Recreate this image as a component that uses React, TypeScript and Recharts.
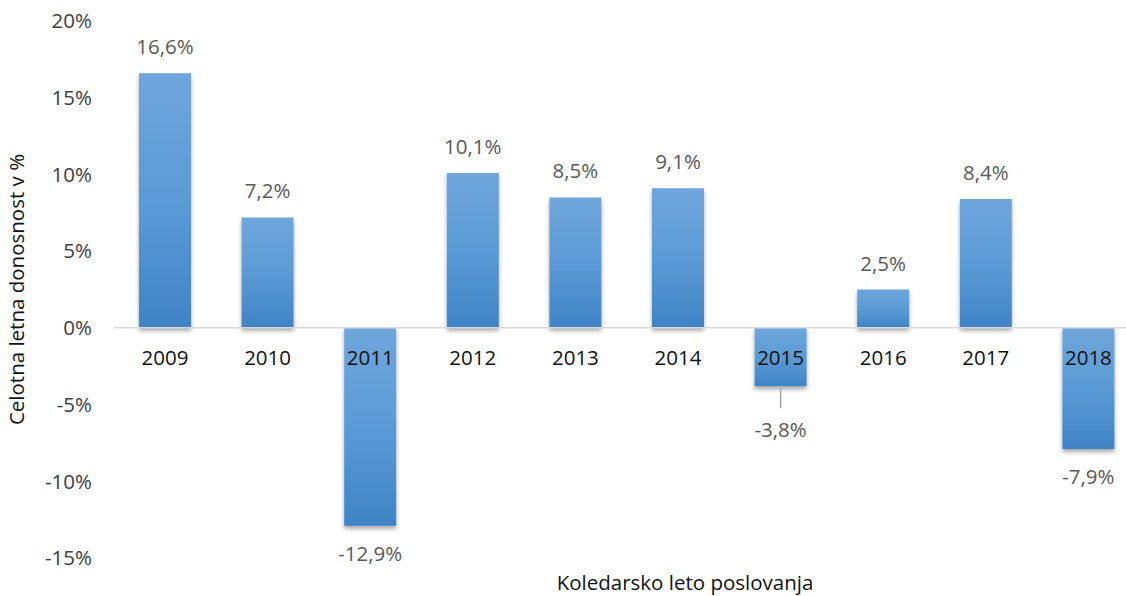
import React from "react";
import {
  BarChart,
  Bar,
  XAxis,
  YAxis,
  ReferenceLine,
  LabelList,
  Rectangle,
} from "recharts";

// Calendar years and total annual return (%)
const years = ["2009", "2010", "2011", "2012", "2013", "2014", "2015", "2016", "2017", "2018"];
const returns = [16.6, 7.2, -12.9, 10.1, 8.5, 9.1, -3.8, 2.5, 8.4, -7.9];
const yTicks = [-15, -10, -5, 0, 5, 10, 15, 20];
// labels that Excel pulled away from the bar, drawn with a leader line
const leaderYears = ["2015"];

const data = years.map((year, i) => ({ year, value: returns[i] }));

const FONT = "'Open Sans', 'Noto Sans', sans-serif";
const FS = 20.5;

const fmt = (v: number) => v.toFixed(1).replace(".", ",") + "%";

function ValueLabel(props: any) {
  const { x, y, width, height, value, index } = props;
  const cx = x + width / 2;
  const top = Math.min(y, y + height);
  const bottom = Math.max(y, y + height);
  const year = years[index];
  if (value >= 0) {
    return (
      <text x={cx} y={top - 19} textAnchor="middle" fontFamily={FONT} fontSize={FS} fill="#595959">
        {fmt(value)}
      </text>
    );
  }
  if (leaderYears.includes(year)) {
    return (
      <g>
        <line x1={cx} y1={bottom + 2} x2={cx} y2={bottom + 22} stroke="#a6a6a6" strokeWidth={1.5} />
        <text x={cx} y={bottom + 51} textAnchor="middle" fontFamily={FONT} fontSize={FS} fill="#595959">
          {fmt(value)}
        </text>
      </g>
    );
  }
  return (
    <text x={cx} y={bottom + 35} textAnchor="middle" fontFamily={FONT} fontSize={FS} fill="#595959">
      {fmt(value)}
    </text>
  );
}

// category names sit just below the zero line, on top of negative bars
function CategoryLabel(props: any) {
  const { x, y, width, height, index } = props;
  const zeroY = y + height;
  return (
    <text x={x + width / 2} y={zeroY + 37} textAnchor="middle" fontFamily={FONT} fontSize={FS} fill="#111">
      {years[index]}
    </text>
  );
}

export default function App() {
  return (
    <div
      style={{
        position: "absolute",
        left: 0,
        top: 0,
        width: 1126,
        height: 596,
        overflow: "hidden",
        background: "#fff",
      }}
    >
      <BarChart
        width={1142}
        height={596}
        data={data}
        margin={{ top: 21, right: 2, left: 0, bottom: 0 }}
        barSize={52}
      >
        <defs>
          <linearGradient id="barGrad" x1="0" y1="0" x2="0" y2="1">
            <stop offset="0%" stopColor="#6fa6dc" />
            <stop offset="50%" stopColor="#5b9bd5" />
            <stop offset="100%" stopColor="#3f84c6" />
          </linearGradient>
          <filter id="barShadow" x="-20%" y="-20%" width="140%" height="140%">
            <feDropShadow dx="0" dy="3" stdDeviation="2.2" floodColor="#000" floodOpacity="0.35" />
          </filter>
        </defs>
        <XAxis
          dataKey="year"
          height={38}
          tick={false}
          tickLine={false}
          axisLine={false}
          label={{
            value: "Koledarsko leto poslovanja",
            position: "insideBottom",
            offset: 6,
            dx: 58,
            fontFamily: FONT,
            fontSize: FS,
            fill: "#111",
          }}
        />
        <YAxis
          width={114}
          domain={[-15, 20]}
          ticks={yTicks}
          tickFormatter={(v: number) => v + "%"}
          axisLine={false}
          tickLine={false}
          tickSize={0}
          tickMargin={22}
          tick={{ fontFamily: FONT, fontSize: FS, fill: "#404040" }}
          label={{
            value: "Celotna letna donosnost v %",
            angle: -90,
            position: "insideLeft",
            offset: 17,
            style: { textAnchor: "middle" },
            fontFamily: FONT,
            fontSize: FS,
            fill: "#111",
          }}
        />
        <ReferenceLine y={0} stroke="#d9d9d9" strokeWidth={1.5} />
        <Bar
          dataKey="value"
          isAnimationActive={false}
          shape={(p: any) => <Rectangle {...p} fill="url(#barGrad)" filter="url(#barShadow)" />}
        >
          <LabelList dataKey="value" content={<ValueLabel />} />
          <LabelList dataKey="year" content={<CategoryLabel />} />
        </Bar>
      </BarChart>
    </div>
  );
}
